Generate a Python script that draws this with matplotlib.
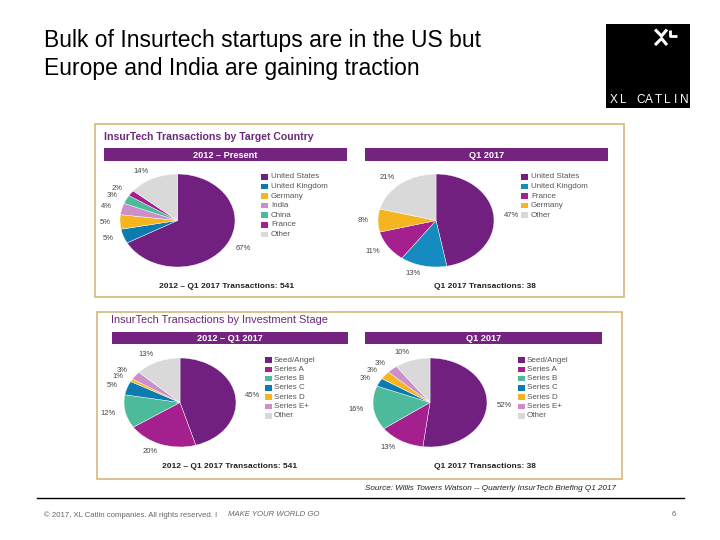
import matplotlib
matplotlib.use("Agg")
import matplotlib.pyplot as plt
from matplotlib.patches import Rectangle

plt.rcParams["font.family"] = ["Liberation Sans", "DejaVu Sans"]

# ------------------------------
# Data
# ------------------------------
country_all_labels = ["United States", "United Kingdom", "Germany", "India", "China", "France", "Other"]
country_all_vals = [67, 5, 5, 4, 3, 2, 14]

country_q1_labels = ["United States", "United Kingdom", "France", "Germany", "Other"]
country_q1_vals = [47, 13, 11, 8, 21]

stage_labels = ["Seed/Angel", "Series A", "Series B", "Series C", "Series D", "Series E+", "Other"]
stage_all_vals = [45, 20, 12, 5, 1, 3, 13]
stage_q1_vals = [52, 13, 16, 3, 3, 3, 10]

# colours
PURPLE = "#72207f"
BLUE = "#0b7bb0"
YELLOW = "#f5b520"
LAVENDER = "#cc8fc9"
TEAL = "#4dbb9b"
MAGENTA = "#a3208e"
GREY = "#d9d9d9"
BORDER = "#d8b67e"

country_all_colors = [PURPLE, BLUE, YELLOW, LAVENDER, TEAL, MAGENTA, GREY]
country_q1_colors = [PURPLE, "#168bc0", MAGENTA, YELLOW, GREY]
stage_colors = [PURPLE, MAGENTA, TEAL, BLUE, YELLOW, LAVENDER, GREY]

W, H = 720, 540
fig = plt.figure(figsize=(7.2, 5.4), dpi=100)
fig.patch.set_facecolor("white")

# background axis in pixel coordinates
bg = fig.add_axes([0, 0, 1, 1])
bg.set_xlim(0, W)
bg.set_ylim(H, 0)
bg.axis("off")


def px_axes(x0, y0, x1, y1):
    return fig.add_axes([x0 / W, 1 - y1 / H, (x1 - x0) / W, (y1 - y0) / H])


def draw_pie(box, vals, colors):
    ax = px_axes(*box)
    ax.pie(vals, colors=colors, startangle=90, counterclock=False,
           labels=[f"{v}%" for v in vals], labeldistance=1.17,
           textprops={"fontsize": 5.5, "color": "#444444"},
           wedgeprops={"edgecolor": "white", "linewidth": 0.3})
    ax.set_aspect("auto")
    ax.set_xlim(-1, 1)
    ax.set_ylim(-1, 1)
    ax.axis("off")
    return ax


def draw_legend(sq_x, txt_x, y0, labels, colors, step=9.55):
    for i, (lab, col) in enumerate(zip(labels, colors)):
        y = y0 + i * step
        bg.add_patch(Rectangle((sq_x, y - 2.8), 7, 5.6, color=col, lw=0))
        bg.text(txt_x, y, lab, fontsize=5.8, color="#555555", va="center", ha="left")


def header_bar(x0, y0, x1, y1, text):
    bg.add_patch(Rectangle((x0, y0), x1 - x0, y1 - y0, color="#74247f", lw=0))
    bg.text((x0 + x1) / 2, (y0 + y1) / 2 + 0.5, text, fontsize=6.6, color="white",
            weight="bold", ha="center", va="center")


# ------------------------------
# Slide title and logo
# ------------------------------
bg.text(44, 41, "Bulk of Insurtech startups are in the US but", fontsize=16.5,
        color="black", va="center", ha="left")
bg.text(44, 68, "Europe and India are gaining traction", fontsize=16.5,
        color="black", va="center", ha="left")

bg.add_patch(Rectangle((606, 24), 84, 84, color="black", lw=0))
bg.plot([655, 661.5, 667], [29.5, 36, 29.5], color="white", lw=2.2, solid_capstyle="butt")
bg.plot([655, 661.5, 667], [45, 38.5, 45], color="white", lw=2.2, solid_capstyle="butt")
bg.plot([670, 670, 677], [29.5, 35.5, 35.5], color="white", lw=2.0, solid_capstyle="butt")
logo_text = "XL CATLIN"
for i, ch in enumerate(logo_text):
    bg.text(614 + i * 8.8, 100, ch, fontsize=8.5, color="white", ha="center", va="center")

# ------------------------------
# Panel 1: target country
# ------------------------------
bg.add_patch(Rectangle((95, 124), 529, 173, fill=False, edgecolor=BORDER, lw=1.2))
bg.text(104, 137, "InsurTech Transactions by Target Country", fontsize=7.6,
        color="#6b2a7a", weight="bold", va="center", ha="left")
header_bar(104, 148, 347, 161, "2012 \u2013 Present")
header_bar(365, 148, 608, 161, "Q1 2017")

draw_pie((120, 174, 235, 267), country_all_vals, country_all_colors)
draw_pie((378, 174, 494, 267), country_q1_vals, country_q1_colors)

draw_legend(261, 271, 177, country_all_labels, country_all_colors)
draw_legend(521, 531, 177, country_q1_labels, country_q1_colors)

bg.text(227, 286, "2012 \u2013 Q1 2017 Transactions: 541", fontsize=6, weight="bold",
        ha="center", va="center", color="#222222")
bg.text(485, 286, "Q1 2017 Transactions: 38", fontsize=6, weight="bold",
        ha="center", va="center", color="#222222")

# ------------------------------
# Panel 2: investment stage
# ------------------------------
bg.add_patch(Rectangle((97, 312), 525, 167, fill=False, edgecolor=BORDER, lw=1.2))
bg.text(111, 320, "InsurTech Transactions by Investment Stage", fontsize=7.9,
        color="#6b2a7a", va="center", ha="left")
header_bar(112, 332, 348, 343.5, "2012 \u2013 Q1 2017")
header_bar(365, 332, 602, 343.5, "Q1 2017")

draw_pie((124, 358, 236, 447), stage_all_vals, stage_colors)
draw_pie((373, 358, 487, 447), stage_q1_vals, stage_colors)

draw_legend(265, 274, 360, stage_labels, stage_colors, step=9.3)
draw_legend(518, 527, 360, stage_labels, stage_colors, step=9.3)

bg.text(230, 466, "2012 \u2013 Q1 2017 Transactions: 541", fontsize=6, weight="bold",
        ha="center", va="center", color="#222222")
bg.text(485, 466, "Q1 2017 Transactions: 38", fontsize=6, weight="bold",
        ha="center", va="center", color="#222222")

# ------------------------------
# Source and footer
# ------------------------------
bg.text(616, 488, "Source: Willis Towers Watson -- Quarterly InsurTech Briefing Q1 2017",
        fontsize=5.9, style="italic", ha="right", va="center", color="#222222")
bg.plot([37, 684], [498, 498], color="black", lw=1)
bg.text(44, 515, "\u00a9 2017, XL Catlin companies. All rights reserved. I ", fontsize=5.6,
        color="#666666", ha="left", va="center")
bg.text(228, 515, "MAKE YOUR WORLD GO", fontsize=5.6, style="italic",
        color="#666666", ha="left", va="center")
bg.text(676, 515, "6", fontsize=5.5, color="#666666", ha="right", va="center")

fig.savefig("out.png", dpi=100)
